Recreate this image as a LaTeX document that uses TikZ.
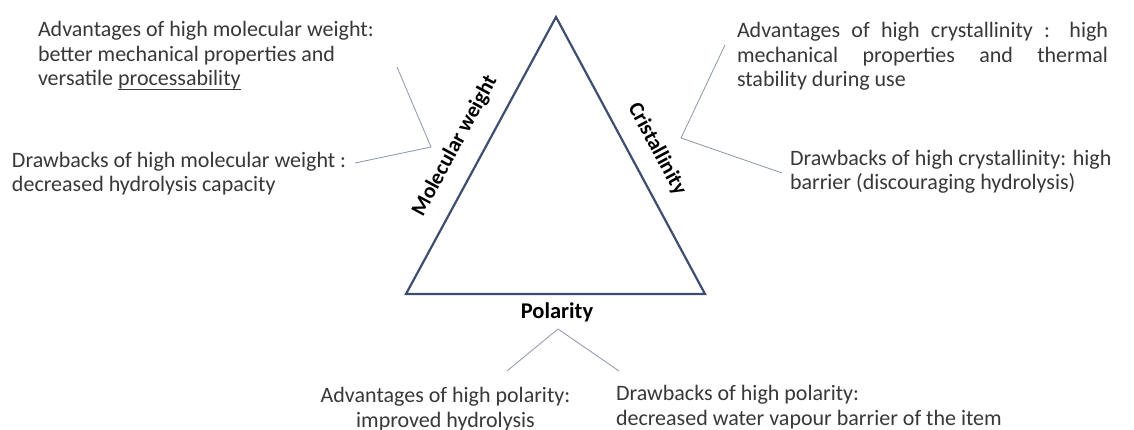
\documentclass[tikz,border=0pt]{standalone}
\usepackage{fontspec}
\setmainfont{Carlito}
\definecolor{txt}{HTML}{383838}
\definecolor{tri}{RGB}{62,78,112}
\definecolor{conn}{RGB}{140,150,170}
\newcommand{\myul}[1]{{\setbox0\hbox{#1}\rlap{\rule[-3.6pt]{\wd0}{0.9pt}}\box0}}
\begin{document}
\begin{tikzpicture}[x=1pt,y=-1pt,
  body/.style={inner sep=0pt, outer sep=0pt, text=txt, font=\fontsize{22}{24.5}\selectfont},
  axislabel/.style={inner sep=0pt, text=black, font=\fontsize{21.5}{24}\selectfont\bfseries},
  conn/.style={draw=conn, line width=0.8pt}]
\useasboundingbox (0,0) rectangle (1134,430);
\fill[white] (0,0) rectangle (1134,430);
% triangle
\coordinate (A) at (556,17);
\coordinate (B) at (406,294);
\coordinate (C) at (705,294);
\draw[tri, line width=2.2pt, fill=white, line join=miter] (A) -- (B) -- (C) -- cycle;
% axis labels
\node[axislabel, rotate=61.6] (mw) at (455,146) {Molecular weight};
\node[axislabel, rotate=-61.6] (cr) at (657,149) {Cristallinity};
\node[axislabel, font=\fontsize{22.5}{24}\selectfont\bfseries, anchor=base] (po) at (557,318) {Polarity};
% text blocks (anchored at the baseline of their last line)
\node[body, anchor=base west, align=left] (mwadv) at (38,86)
  {Advantages of high molecular weight:\\better mechanical properties and\\versatile \myul{processability}};
\node[body, anchor=base west, align=left] (mwdis) at (12,192)
  {Drawbacks of high molecular weight :\\decreased hydrolysis capacity};
\node[body, anchor=base west, align=left] (cradv) at (737,87)
  {\makebox[371pt][s]{Advantages of high crystallinity : high}\\
   \makebox[371pt][s]{mechanical properties and thermal}\\
   stability during use};
\node[body, anchor=base west, align=left] (crdis) at (790,190)
  {Drawbacks of high crystallinity: high\\barrier (discouraging hydrolysis)};
\node[body, anchor=base, align=center] (poadv) at (445.5,427)
  {Advantages of high polarity:\\improved hydrolysis};
\node[body, anchor=base west, align=left] (podis) at (616,425)
  {Drawbacks of high polarity:\\decreased water vapour barrier of the item};
% connectors
\coordinate (mwc) at (431,147);
\coordinate (mwa) at (397,67);
\coordinate (mwd) at (355,163);
\draw[conn] (mwa) -- (mwc) -- (mwd);
\coordinate (crc) at (681,138);
\coordinate (cra) at (725,45);
\coordinate (crd) at (782,173);
\draw[conn] (cra) -- (crc) -- (crd);
\coordinate (poc) at (558,329);
\coordinate (poa) at (507,371);
\coordinate (pod) at (619,371);
\draw[conn] (poa) -- (poc) -- (pod);
\end{tikzpicture}
\end{document}
